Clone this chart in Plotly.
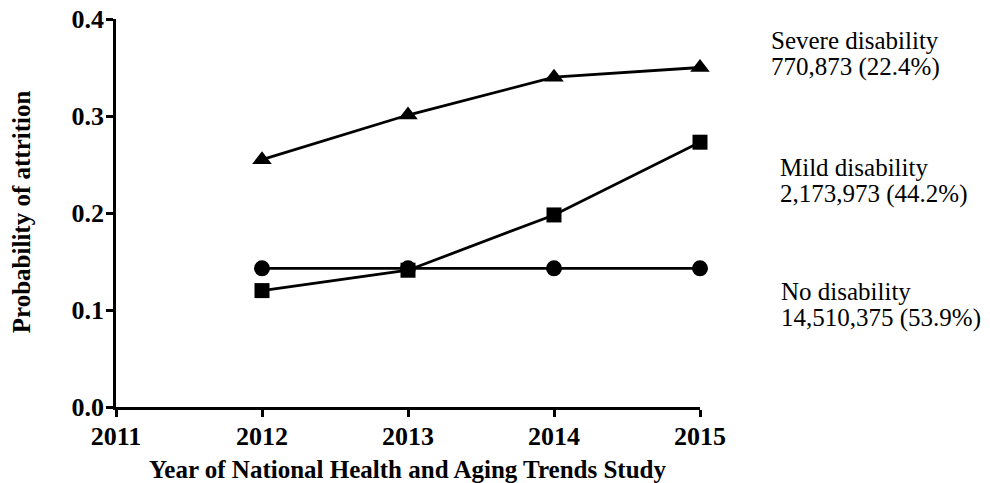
import plotly.graph_objects as go

years = [2012, 2013, 2014, 2015]
severe = [0.255, 0.301, 0.340, 0.350]
mild = [0.120, 0.141, 0.198, 0.273]
none_dis = [0.143, 0.143, 0.143, 0.143]

x_ticks = [2011, 2012, 2013, 2014, 2015]
y_ticks = [0.0, 0.1, 0.2, 0.3, 0.4]

group_names = ["Severe disability", "Mild disability", "No disability"]
group_counts = ["770,873 (22.4%)", "2,173,973 (44.2%)", "14,510,375 (53.9%)"]

serif = "Liberation Serif, Times New Roman, serif"

fig = go.Figure()
series = [
    (severe, "triangle-up", 17),
    (mild, "square", 15),
    (none_dis, "circle", 16),
]
for values, symbol, size in series:
    fig.add_trace(go.Scatter(
        x=years, y=values, mode="lines+markers",
        line=dict(color="black", width=2.8),
        marker=dict(symbol=symbol, size=size, color="black"),
        cliponaxis=False, showlegend=False,
    ))

fig.update_layout(
    width=990, height=483,
    margin=dict(l=116, r=290, t=19, b=76),
    paper_bgcolor="white", plot_bgcolor="white",
    font=dict(family=serif, color="black"),
)
axis_style = dict(
    showgrid=False, zeroline=False, showline=True, linecolor="black", linewidth=2.8,
    ticks="outside", ticklen=7, tickwidth=2.8, tickcolor="black",
    tickfont=dict(family=serif, size=26, weight="bold"),
    automargin=False, ticklabelstandoff=-3,
)
fig.update_xaxes(range=[2011, 2015], tickvals=x_ticks,
                 ticktext=[str(v) for v in x_ticks], **axis_style)
fig.update_yaxes(range=[0, 0.4], tickvals=y_ticks,
                 ticktext=[f"{v:.1f}" for v in y_ticks], **axis_style)

# axis titles
fig.add_annotation(
    text="<b>Year of National Health and Aging Trends Study</b>",
    xref="paper", yref="paper", x=0.5, y=-0.16, yanchor="middle",
    showarrow=False, font=dict(family=serif, size=25),
)
fig.add_annotation(
    text="<b>Probability of attrition</b>",
    xref="paper", yref="paper", x=-0.162, y=0.503, textangle=-90,
    xanchor="center", yanchor="middle",
    showarrow=False, font=dict(family=serif, size=25),
)

# group labels to the right of the plot: name line above count line
label_x = [1.118, 1.1336, 1.1353]
name_y = [0.378, 0.247, 0.119]
count_y = [0.351, 0.220, 0.092]
for name, count, lx, ny, cy in zip(group_names, group_counts, label_x, name_y, count_y):
    for txt, yv in ((name, ny), (count, cy)):
        fig.add_annotation(
            text=txt, xref="paper", yref="y",
            x=lx, y=yv, xanchor="left", yanchor="middle", align="left",
            showarrow=False, font=dict(family=serif, size=25),
        )

fig.write_html("out.html")
